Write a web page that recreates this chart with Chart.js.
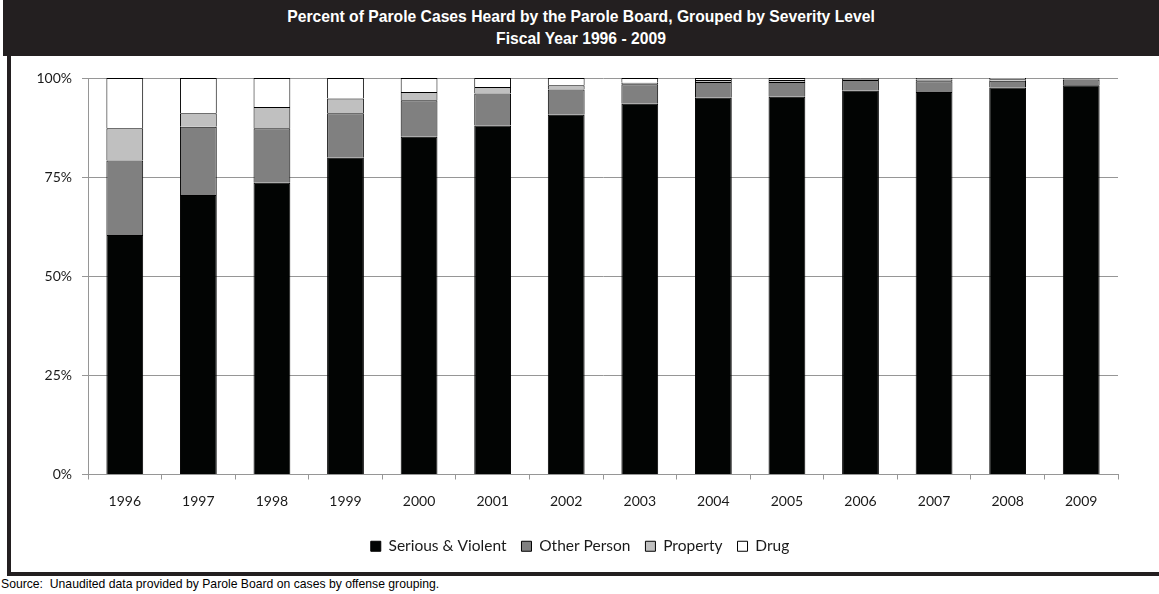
<!DOCTYPE html>
<html>
<head>
<meta charset="utf-8">
<script src="https://cdn.jsdelivr.net/npm/chart.js@4/dist/chart.umd.min.js"></script>
<style>
  html, body { margin: 0; padding: 0; background: #fff; }
  #page { position: relative; width: 1159px; height: 594px; overflow: hidden; }
  #titlebar {
    position: absolute; left: 3px; top: 0; width: 1156px; height: 56px;
    background: #231f20; color: #fff;
    font: bold 15.7px "Liberation Sans", Arial, sans-serif;
    text-align: center; line-height: 22px; padding-top: 6px; box-sizing: border-box;
  }
  #leftrule { position: absolute; left: 7px; top: 56px; width: 4px; height: 519px; background: #231f20; }
  #bottomrule { position: absolute; left: 7px; top: 572px; width: 1152px; height: 4px; background: #231f20; }
  #source {
    position: absolute; left: 1px; top: 577px;
    font: 12.2px "Liberation Sans", Arial, sans-serif; color: #000; white-space: pre;
  }
  #wrap { position: absolute; left: 11px; top: 56px; width: 1148px; height: 516px; }
</style>
</head>
<body>
<div id="page">
  <div id="titlebar">Percent of Parole Cases Heard by the Parole Board, Grouped by Severity Level<br>Fiscal Year 1996 - 2009</div>
  <div id="wrap"><canvas id="myChart"></canvas></div>
  <div id="leftrule"></div>
  <div id="bottomrule"></div>
  <div id="source">Source:  Unaudited data provided by Parole Board on cases by offense grouping.</div>
</div>
<script>
const years = ['1996', '1997', '1998', '1999', '2000', '2001', '2002',
               '2003', '2004', '2005', '2006', '2007', '2008', '2009'];

// share of cases per offense group, percent
const seriousViolent = [60.4, 70.5, 73.6, 79.9, 85.2, 88.0, 90.7, 93.5, 95.0, 95.3, 96.8, 96.5, 97.6, 98.2];
const otherPerson    = [18.8, 17.2, 13.7, 11.2,  9.2,  8.1,  6.4,  4.9,  4.0,  3.7,  2.7,  2.7,  1.7,  1.4];
const property       = [ 8.1,  3.4,  5.4,  3.7,  2.1,  1.6,  1.1,  0.4,  0.5,  0.5,  0.3,  0.4,  0.4,  0.2];
const drug           = [12.7,  8.9,  7.3,  5.2,  3.5,  2.3,  1.8,  1.2,  0.5,  0.5,  0.2,  0.4,  0.3,  0.2];

const yTicks = [0, 25, 50, 75, 100];

const labelFont = { family: 'Lato, "Open Sans", sans-serif', size: 14 };
const legendFont = { family: 'Lato, "Open Sans", sans-serif', size: 15.5 };
const gridGray = '#969696';

const makeSet = (label, data, fill) => ({
  label,
  data,
  backgroundColor: fill,
  borderColor: '#000',
  borderWidth: 1,
  barPercentage: 0.5,
  categoryPercentage: 1.0
});

const chart = new Chart(document.getElementById('myChart'), {
  type: 'bar',
  data: {
    labels: years,
    datasets: [
      makeSet('Serious & Violent', seriousViolent, '#020403'),
      makeSet('Other Person', otherPerson, '#808080'),
      makeSet('Property', property, '#c0c0c0'),
      makeSet('Drug', drug, '#ffffff')
    ]
  },
  options: {
    responsive: true,
    maintainAspectRatio: false,
    animation: false,
    layout: { padding: { top: 22, right: 10, bottom: 8, left: 0 } },
    plugins: {
      tooltip: { enabled: false },
      legend: {
        position: 'bottom',
        labels: {
          font: legendFont,
          color: '#1a1a1a',
          boxWidth: 10,
          boxHeight: 10,
          padding: 15
        }
      }
    },
    scales: {
      x: {
        stacked: true,
        offset: true,
        grid: { offset: true, drawOnChartArea: false, drawTicks: true, tickLength: 5, color: gridGray },
        border: { display: true, color: gridGray },
        ticks: { font: labelFont, color: '#1a1a1a', padding: 14, maxRotation: 0 },
        afterFit: (scale) => { scale.height = 49; }
      },
      y: {
        stacked: true,
        min: 0,
        max: 100,
        afterBuildTicks: (scale) => { scale.ticks = yTicks.map(v => ({ value: v })); },
        grid: { color: gridGray, tickLength: 6 },
        border: { display: true, color: gridGray },
        ticks: { font: labelFont, color: '#1a1a1a', padding: 10, callback: v => v + '%' },
        afterFit: (scale) => { scale.width = 77; }
      },
      // empty right-hand gutter so the legend stays centred under the page
      gutter: {
        type: 'linear',
        position: 'right',
        display: true,
        grid: { display: false, drawOnChartArea: false },
        border: { display: false },
        ticks: { display: false },
        afterFit: (scale) => { scale.width = 31; }
      }
    }
  }
});
</script>
</body>
</html>
